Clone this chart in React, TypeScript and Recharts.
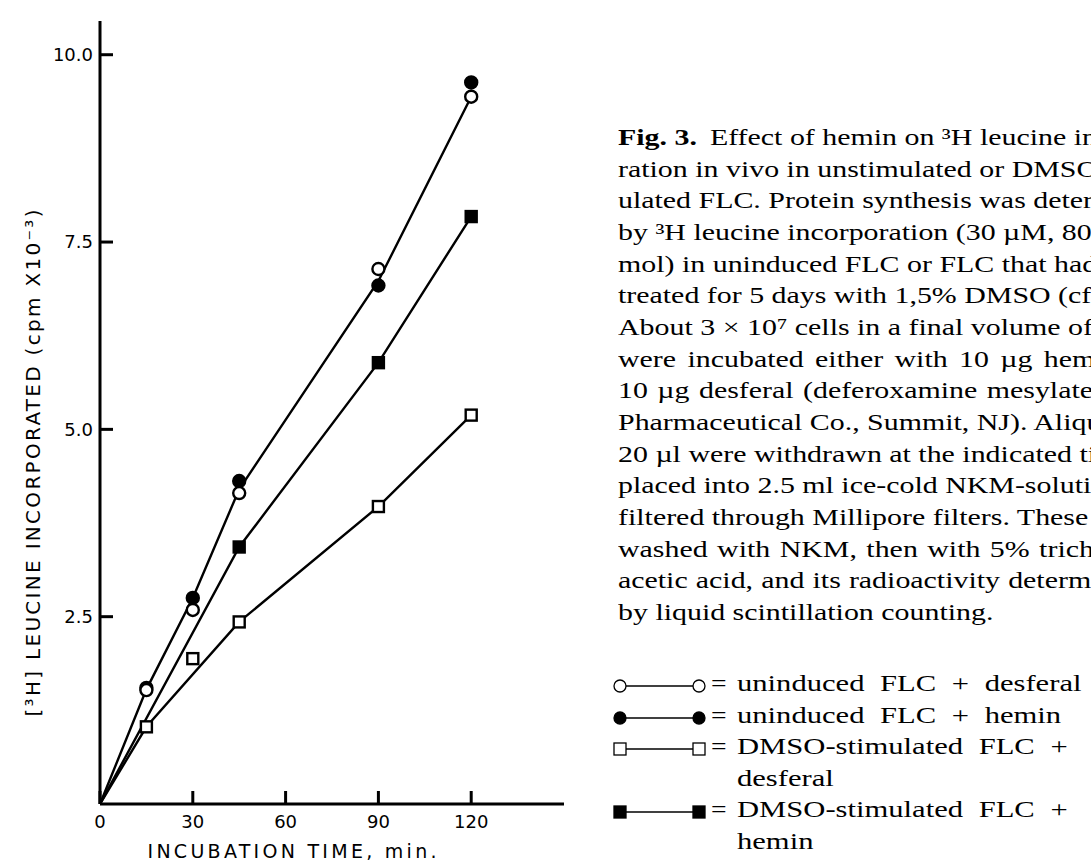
import React from "react";
import { LineChart, Line, XAxis, YAxis, Label } from "recharts";

// incubation time (min)
const TIMES = [0, 15, 30, 45, 90, 120];

// [3H] leucine incorporated, cpm x 10^-3
const OPEN_CIRCLE = [null, 1.52, 2.59, 4.15, 7.14, 9.44];
const FILLED_CIRCLE = [null, 1.55, 2.75, 4.31, 6.92, 9.63];
const CIRCLE_LINE = [0, 1.53, 2.75, 4.2, 6.98, 9.44];
const OPEN_SQUARE = [null, 1.03, 1.94, 2.43, 3.97, 5.19];
const OPEN_SQUARE_LINE = [0, 1.03, null, 2.43, 3.97, 5.19];
const FILLED_SQUARE = [null, null, null, 3.43, 5.89, 7.84];
const FILLED_SQUARE_LINE = [0, null, null, 3.43, 5.89, 7.84];

const X_TICKS = [0, 30, 60, 90, 120];
const Y_TICKS = [2.5, 5, 7.5, 10];
const TOP_TICKS = [30, 60, 90, 120];

// the column runs past the right edge of the scan, as in the original
const CAPTION_LINES = [
    "Effect of hemin on ³H leucine incorpo-",
    "ration in vivo in unstimulated or DMSO-stim-",
    "ulated FLC. Protein synthesis was determined",
    "by ³H leucine incorporation (30 µM, 80 Ci/m-",
    "mol) in uninduced FLC or FLC that had been",
    "treated for 5 days with 1,5% DMSO (cf. Fig. 1).",
    "About 3 × 10⁷ cells in a final volume of 0.2 ml",
    "were incubated either with 10 µg hemin or",
    "10 µg desferal (deferoxamine mesylate, Ciba",
    "Pharmaceutical Co., Summit, NJ). Aliquots of",
    "20 µl were withdrawn at the indicated times,",
    "placed into 2.5 ml ice-cold NKM-solution and",
    "filtered through Millipore filters. These were",
    "washed with NKM, then with 5% trichloro-",
    "acetic acid, and its radioactivity determined",
    "by liquid scintillation counting.",
];
// justified lines get a little extra space between words
const CAPTION_WORD_SPACING = [0, 0, 0, 0, 0, 0, 0, 3, 1.5, 0, 0, 0, 0, 1.5, 0.5, 0];

const LEGEND = [
    { shape: "circle", filled: false, text: ["uninduced FLC + desferal"] },
    { shape: "circle", filled: true, text: ["uninduced FLC + hemin"] },
    { shape: "square", filled: false, text: ["DMSO-stimulated FLC +", "desferal"] },
    { shape: "square", filled: true, text: ["DMSO-stimulated FLC +", "hemin"] },
];

const INK = "#000";
const SANS = '"DejaVu Sans", sans-serif';
const SERIF = '"Liberation Serif", serif';

const data = TIMES.map((t, i) => ({
    t,
    oc: OPEN_CIRCLE[i],
    fc: FILLED_CIRCLE[i],
    cl: CIRCLE_LINE[i],
    os: OPEN_SQUARE[i],
    osl: OPEN_SQUARE_LINE[i],
    fs: FILLED_SQUARE[i],
    fsl: FILLED_SQUARE_LINE[i],
}));

function circleDot(filled: boolean) {
    return (p: any) => {
        if (p.value == null || p.cy == null) return <g key={p.index} />;
        return (
            <circle key={p.index} cx={p.cx} cy={p.cy} r={6}
                fill={filled ? INK : "#fff"} stroke={INK} strokeWidth={2.4} />
        );
    };
}

function squareDot(filled: boolean) {
    return (p: any) => {
        if (p.value == null || p.cy == null) return <g key={p.index} />;
        return (
            <rect key={p.index} x={p.cx - 5.5} y={p.cy - 5.5} width={11} height={11}
                fill={filled ? INK : "#fff"} stroke={INK} strokeWidth={2.4} />
        );
    };
}

const xTitle = (props: any) => {
    const vb = props.viewBox;
    return (
        <text x={vb.x + 192} y={vb.y + 54} textAnchor="middle" fill={INK}
            fontFamily={SANS} fontSize={19} textLength={289} lengthAdjust="spacing">
            INCUBATION TIME, min.
        </text>
    );
};

const yTitle = (props: any) => {
    const vb = props.viewBox;
    const cx = vb.x + 33;
    const cy = 463;
    return (
        <text x={cx} y={cy} textAnchor="middle" dominantBaseline="central" fill={INK}
            fontFamily={SANS} fontSize={20} textLength={507} lengthAdjust="spacing"
            transform={`rotate(-90, ${cx}, ${cy})`}>
            [³H] LEUCINE INCORPORATED (cpm X10⁻³)
        </text>
    );
};

function LegendMark({ shape, filled }: { shape: string; filled: boolean }) {
    const mark = (x: number) =>
        shape === "circle" ? (
            <circle cx={x} cy={8} r={6} fill={filled ? INK : "#fff"} stroke={INK} strokeWidth={1.3} />
        ) : (
            <rect x={x - 6} y={2} width={12} height={12} fill={filled ? INK : "#fff"} stroke={INK} strokeWidth={1.3} />
        );
    return (
        <svg width={94} height={16} style={{ position: "absolute", left: 0, top: 10 }}>
            <line x1={8} y1={8} x2={86} y2={8} stroke={INK} strokeWidth={1.3} />
            {mark(7)}
            {mark(86)}
        </svg>
    );
}

export default function App() {
    const tickStyle = { fill: INK, fontSize: 18, fontFamily: SANS };
    const axisLine = { stroke: INK, strokeWidth: 3 };
    const tickLine = { stroke: INK, strokeWidth: 3 };
    return (
        <div style={{ position: "absolute", left: 0, top: 0, width: 1091, height: 864, overflow: "hidden", background: "#fff" }}>
            <div style={{ position: "absolute", left: 0, top: 0 }}>
                <LineChart width={600} height={864} data={data} margin={{ top: 21, right: 36, bottom: 0, left: 0 }}>
                    <XAxis dataKey="t" type="number" domain={[0, 150]} ticks={X_TICKS} height={60}
                        tickSize={-13} tickMargin={24} tick={tickStyle} axisLine={axisLine} tickLine={tickLine}
                        allowDataOverflow>
                        <Label content={xTitle} />
                    </XAxis>
                    <XAxis xAxisId="top" orientation="top" dataKey="t" type="number" domain={[0, 150]}
                        ticks={TOP_TICKS} height={0} tickSize={-13} tick={false}
                        axisLine={axisLine} tickLine={tickLine} allowDataOverflow />
                    <YAxis type="number" domain={[0, 10.45]} ticks={Y_TICKS} width={100}
                        tickSize={-13} tickMargin={20} tick={tickStyle} axisLine={axisLine} tickLine={tickLine}
                        tickFormatter={(v: number) => v.toFixed(1)} allowDataOverflow>
                        <Label content={yTitle} />
                    </YAxis>
                    <YAxis yAxisId="right" orientation="right" type="number" domain={[0, 10.45]}
                        ticks={Y_TICKS} width={0} tickSize={-13} tick={false}
                        axisLine={axisLine} tickLine={tickLine} allowDataOverflow />

                    <Line dataKey="cl" type="linear" stroke={INK} strokeWidth={2.4} dot={false} activeDot={false} isAnimationActive={false} />
                    <Line dataKey="osl" type="linear" stroke={INK} strokeWidth={2.4} dot={false} activeDot={false} connectNulls isAnimationActive={false} />
                    <Line dataKey="fsl" type="linear" stroke={INK} strokeWidth={2.4} dot={false} activeDot={false} connectNulls isAnimationActive={false} />

                    <Line dataKey="fc" type="linear" stroke="none" dot={circleDot(true)} activeDot={false} isAnimationActive={false} />
                    <Line dataKey="oc" type="linear" stroke="none" dot={circleDot(false)} activeDot={false} isAnimationActive={false} />
                    <Line dataKey="os" type="linear" stroke="none" dot={squareDot(false)} activeDot={false} isAnimationActive={false} />
                    <Line dataKey="fs" type="linear" stroke="none" dot={squareDot(true)} activeDot={false} isAnimationActive={false} />
                </LineChart>
            </div>

            <div style={{ position: "absolute", left: 618, top: 122, fontFamily: SERIF, fontSize: 23, lineHeight: "31.67px", whiteSpace: "nowrap", color: INK, transform: "scaleX(1.3)", transformOrigin: "0 0" }}>
                {CAPTION_LINES.map((line, i) => (
                    <div key={i} style={{ wordSpacing: CAPTION_WORD_SPACING[i] }}>
                        {i === 0 && <b style={{ marginRight: 10 }}>Fig. 3.</b>}
                        {line}
                    </div>
                ))}
            </div>

            <div style={{ position: "absolute", left: 613, top: 668, fontFamily: SERIF, fontSize: 23, lineHeight: "31.5px", whiteSpace: "nowrap", color: INK }}>
                {LEGEND.map((row, i) => (
                    <div key={i} style={{ position: "relative" }}>
                        {row.text.map((t, j) => (
                            <div key={j} style={{ position: "relative", height: 31.5 }}>
                                {j === 0 && <LegendMark shape={row.shape} filled={row.filled} />}
                                {j === 0 && <span style={{ position: "absolute", left: 98, transform: "scaleX(1.2)", transformOrigin: "0 0" }}>=</span>}
                                <span style={{ position: "absolute", left: 124, transform: "scaleX(1.33)", transformOrigin: "0 0", wordSpacing: 6 }}>{t}</span>
                            </div>
                        ))}
                    </div>
                ))}
            </div>
        </div>
    );
}
